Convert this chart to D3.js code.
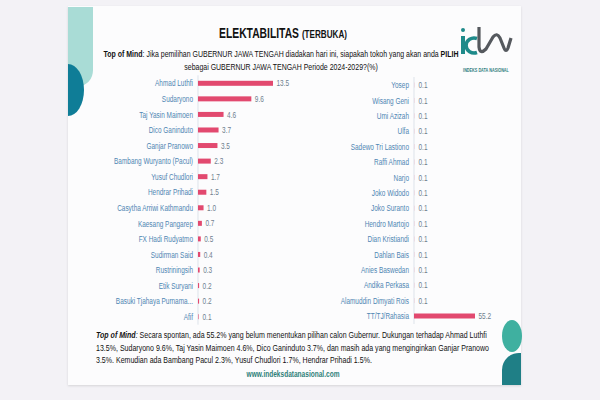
<!doctype html>
<html lang="id">
<head>
<meta charset="utf-8">
<title>Elektabilitas (Terbuka)</title>
<style>
body { margin: 0; background: #f3f2f6; }
svg { display: block; font-family: "Liberation Sans", Arial, sans-serif; }
</style>
</head>
<body>
<div id="chart"></div>
<script src="https://d3js.org/d3.v7.min.js"></script>
<script>
var leftNames = ["Ahmad Luthfi", "Sudaryono", "Taj Yasin Maimoen", "Dico Ganinduto", "Ganjar Pranowo",
  "Bambang Wuryanto (Pacul)", "Yusuf Chudlori", "Hendrar Prihadi", "Casytha Arriwi Kathmandu",
  "Kaesang Pangarep", "FX Hadi Rudyatmo", "Sudirman Said", "Rustriningsih", "Etik Suryani",
  "Basuki Tjahaya Purnama...", "Afif"];
var leftValues = [13.5, 9.6, 4.6, 3.7, 3.5, 2.3, 1.7, 1.5, 1.0, 0.7, 0.5, 0.4, 0.3, 0.2, 0.2, 0.1];

var rightNames = ["Yosep", "Wisang Geni", "Umi Azizah", "Ulfa", "Sadewo Tri Lastiono", "Raffi Ahmad",
  "Narjo", "Joko Widodo", "Joko Suranto", "Hendro Martojo", "Dian Kristiandi", "Dahlan Bais",
  "Anies Baswedan", "Andika Perkasa", "Alamuddin Dimyati Rois", "TT/TJ/Rahasia"];
var rightValues = [0.1, 0.1, 0.1, 0.1, 0.1, 0.1, 0.1, 0.1, 0.1, 0.1, 0.1, 0.1, 0.1, 0.1, 0.1, 55.2];

var noteLines = [
  "Secara spontan, ada 55.2% yang belum menentukan pilihan calon Gubernur. Dukungan terhadap Ahmad Luthfi",
  "13.5%, Sudaryono 9.6%, Taj Yasin Maimoen 4.6%, Dico Ganinduto 3.7%, dan masih ada yang menginginkan Ganjar Pranowo",
  "3.5%. Kemudian ada Bambang Pacul 2.3%, Yusuf Chudlori 1.7%, Hendrar Prihadi 1.5%."
];

var W = 600, H = 400;
var barColor = "#e2496f", labelColor = "#4f86b3", valueColor = "#6f7f8f";

var svg = d3.select("#chart").append("svg").attr("width", W).attr("height", H);

// squeeze text horizontally (the source uses a narrow font)
function narrow(sel, k) {
  sel.each(function () {
    var t = d3.select(this);
    var x = +t.attr("x") || 0, y = +t.attr("y") || 0;
    t.attr("x", 0).attr("y", 0).attr("transform", "translate(" + x + "," + y + ") scale(" + k + ",1)");
  });
}
// width of a string at a given size, to work out the squeeze
function measure(str, size) {
  var t = svg.append("text").attr("font-size", size).text(str);
  var w = t.node().getComputedTextLength();
  t.remove();
  return w;
}

// card + decorations
svg.append("rect").attr("x", 68).attr("y", 6).attr("width", 453).attr("height", 379)
  .attr("fill", "#fcfcfd").style("filter", "drop-shadow(0 1px 1px rgba(0,0,0,0.12))");
svg.append("path").attr("d", "M68,7H93V70A14,16 0 0 1 79,86H68Z").attr("fill", "#a9dcd6");
svg.append("path").attr("d", "M68,64A16,26 0 0 1 68,116Z").attr("fill", "#0f7d97");
svg.append("ellipse").attr("cx", 512).attr("cy", 336).attr("rx", 10).attr("ry", 16).attr("fill", "#3fb0a0");
svg.append("path").attr("d", "M521,353V385H502V370A17,17 0 0 1 521,353Z").attr("fill", "#1f7f86");

// logo
var logo = svg.append("g");
logo.append("circle").attr("cx", 463).attr("cy", 30).attr("r", 2).attr("fill", "#1e8a8a");
logo.append("rect").attr("x", 461).attr("y", 36).attr("width", 4).attr("height", 18).attr("fill", "#1e8a8a");
logo.append("path").attr("d", "M477,38.5A8,7.5 0 1 0 477,52.5").attr("fill", "none").attr("stroke", "#1e8a8a").attr("stroke-width", 3.5);
logo.append("path").attr("d", "M479,27V47Q480,55 486,49L493,37Q497,32 500,38L504,48Q506,53 508,48L511,38")
  .attr("fill", "none").attr("stroke", "#55595e").attr("stroke-width", 3.2).attr("stroke-linejoin", "round");
var logoText = logo.append("text").attr("x", 486).attr("y", 72).attr("text-anchor", "middle")
  .attr("font-size", 4.5).attr("fill", "#2f7f80").attr("font-weight", "bold").text("INDEKS DATA NASIONAL");
narrow(logoText, 46 / logoText.node().getComputedTextLength());

// title
var title = svg.append("text").attr("x", 283).attr("y", 38).attr("text-anchor", "middle")
  .attr("font-weight", "bold").attr("fill", "#111");
title.append("tspan").attr("font-size", 14).text("ELEKTABILITAS ");
title.append("tspan").attr("font-size", 11).text("(TERBUKA)");
narrow(title, 128 / title.node().getComputedTextLength());

var sub1 = svg.append("text").attr("x", 281).attr("y", 57).attr("text-anchor", "middle")
  .attr("font-size", 9).attr("fill", "#111");
sub1.append("tspan").attr("font-weight", "bold").text("Top of Mind");
sub1.append("tspan").text(": Jika pemilihan GUBERNUR JAWA TENGAH diadakan hari ini, siapakah tokoh yang akan anda ");
sub1.append("tspan").attr("font-weight", "bold").text("PILIH");
var sub2 = svg.append("text").attr("x", 281).attr("y", 70).attr("text-anchor", "middle")
  .attr("font-size", 9).attr("fill", "#111").text("sebagai GUBERNUR JAWA TENGAH Periode 2024-2029?(%)");
var kSub = 355 / sub1.node().getComputedTextLength();
narrow(sub1, kSub);
narrow(sub2, kSub);

var kLabel = 38 / measure("Ahmad Luthfi", 9);
var kValue = 12.6 / measure("13.5", 9);

function drawPanel(names, values, x, y) {
  var g = svg.append("g");
  var x0 = x.range()[0];
  g.append("line").attr("x1", x0).attr("x2", x0)
    .attr("y1", y.range()[0] - 8).attr("y2", y.range()[1] + 8)
    .attr("stroke", "#dde3ea").attr("stroke-width", 1);
  var rows = g.selectAll(".row").data(names.map(function (n, i) { return { name: n, value: values[i] }; }))
    .enter().append("g").attr("class", "row")
    .attr("transform", function (d) { return "translate(0," + y(d.name) + ")"; });
  rows.append("rect").attr("x", x0).attr("y", -2.5).attr("height", 5)
    .attr("width", function (d) { return x(d.value) - x0; }).attr("fill", barColor);
  var labels = rows.append("text").attr("x", x0 - 5).attr("dy", "0.35em").attr("text-anchor", "end")
    .attr("font-size", 9).attr("fill", labelColor).text(function (d) { return d.name; });
  var vals = rows.append("text").attr("x", function (d) { return Math.max(x(d.value), x0 + 1) + 3.5; })
    .attr("dy", "0.35em").attr("font-size", 9).attr("fill", valueColor)
    .text(function (d) { return d3.format(".1f")(d.value); });
  narrow(labels, kLabel);
  narrow(vals, kValue);
}

drawPanel(leftNames, leftValues,
  d3.scaleLinear().domain([0, 13.5]).range([198, 273]),
  d3.scalePoint().domain(leftNames).range([83.3, 316.7]));
drawPanel(rightNames, rightValues,
  d3.scaleLinear().domain([0, 55.2]).range([414, 475]),
  d3.scalePoint().domain(rightNames).range([85, 316]));

// note
var note = svg.append("g").attr("font-size", 9.5).attr("fill", "#111");
var noteTexts = [];
noteLines.forEach(function (line, i) {
  var t = note.append("text").attr("x", 96).attr("y", 338 + i * 12.5);
  if (i === 0) {
    t.append("tspan").attr("font-weight", "bold").attr("font-style", "italic").text("Top of Mind");
    t.append("tspan").attr("font-style", "italic").text(": ");
  }
  t.append("tspan").text(line);
  noteTexts.push(t);
});
var kNote = 391 / noteTexts[0].node().getComputedTextLength();
noteTexts.forEach(function (t) { narrow(t, kNote); });

var url = svg.append("text").attr("x", 293).attr("y", 377).attr("text-anchor", "middle")
  .attr("font-size", 9.5).attr("font-weight", "bold").attr("fill", "#2d7f78")
  .text("www.indeksdatanasional.com");
narrow(url, 93 / url.node().getComputedTextLength());
</script>
</body>
</html>
